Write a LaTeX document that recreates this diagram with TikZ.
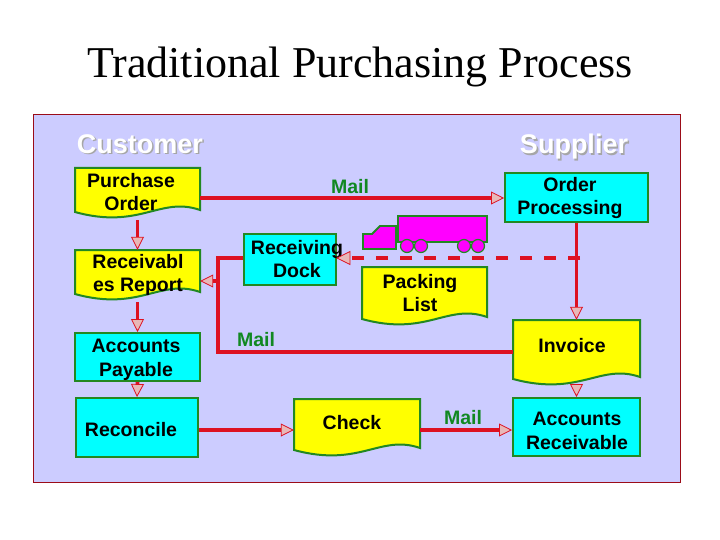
\documentclass[tikz,border=0pt]{standalone}
\usepackage{fontspec}
\setmainfont{Liberation Sans}
\newfontfamily\titlefont{Liberation Serif}
\usetikzlibrary{arrows.meta}
\definecolor{panel}{HTML}{CCCCFF}
\definecolor{lnred}{HTML}{DD1122}
\definecolor{gbord}{HTML}{228822}
\definecolor{docy}{HTML}{FFFF00}
\definecolor{boxc}{HTML}{00FFFF}
\definecolor{mailg}{HTML}{118822}
\definecolor{tipf}{HTML}{E8B8B8}
\definecolor{truckc}{HTML}{FF00FF}
\tikzset{
  tx/.style={font=\fontsize{19.5}{23.5}\selectfont\bfseries, align=center, text=black},
  procbox/.style={draw=gbord, line width=2pt, fill=boxc, inner sep=0pt},
  docshape/.style={inner sep=0pt},
  docline/.style={draw=gbord, line width=2pt, fill=docy},
  conn/.style={draw=lnred, line width=3.6pt, -{Triangle[open,length=13pt,width=13pt,line width=0.8pt,fill=tipf]}},
  plain/.style={draw=lnred, line width=3.6pt},
  mail/.style={text=mailg, font=\fontsize{19.5}{22}\selectfont\bfseries},
  head/.style={text=white, font=\fontsize{27}{29}\selectfont\bfseries},
  shade/.style={text=gray!70, font=\fontsize{27}{29}\selectfont\bfseries}
}
\begin{document}
\begin{tikzpicture}[x=1pt,y=-1pt]
\useasboundingbox (0,0) rectangle (720,540);
\fill[white] (0,0) rectangle (720,540);
\node[font=\titlefont\fontsize{44}{46}\selectfont] (title) at (360,67) {Traditional Purchasing Process};
\path[fill=panel, draw=lnred!70!black, line width=1pt] (33,115) rectangle (680,482);
\node[shade] (cs) at (141.5,145.5) {Customer};
\node[head] (cust) at (140,144) {Customer};
\node[shade] (ss) at (575.5,148.5) {Supplier};
\node[head] (supp) at (574,147) {Supplier};

% documents
\path[docline] (75,168) -- (200,168) -- (200,210) .. controls (160,196) and (140,230) .. (75,212) -- cycle;
\node[docshape, minimum width=125pt, minimum height=52pt] (po) at (137.5,194) {};
\node[tx] (pot) at (131,192) {Purchase\\Order};

\path[docline] (75,250) -- (200,250) -- (200,292) .. controls (160,278) and (140,312) .. (75,294) -- cycle;
\node[docshape, minimum width=125pt, minimum height=52pt] (rr) at (137.5,276) {};
\node[tx] (rrt) at (138,275) {Receivabl\\es Report};

\path[docline] (362,267) -- (487,267) -- (487,317) .. controls (447,303) and (427,337) .. (362,319) -- cycle;
\node[docshape, minimum width=125pt, minimum height=50pt] (pl) at (424.5,292) {};
\node[tx] (plt) at (420,293) {Packing\\List};

\path[docline] (513,320) -- (640,320) -- (640,377) .. controls (600,363) and (580,397) .. (513,379) -- cycle;
\node[docshape, minimum width=127pt, minimum height=70pt] (inv) at (576.5,355) {};
\node[tx] (invt) at (572,346) {Invoice};

\path[docline] (294,399) -- (420,399) -- (420,448) .. controls (380,434) and (360,468) .. (294,450) -- cycle;
\node[docshape, minimum width=126pt, minimum height=58pt] (chk) at (357,428) {};
\node[tx] (chkt) at (352,423) {Check};

% process boxes
\node[procbox, minimum width=92pt, minimum height=51pt] (dock) at (290,259.5) {};
\node[tx] (dockt) at (297,259) {Receiving\\Dock};
\node[procbox, minimum width=143pt, minimum height=49pt] (op) at (576.5,197.5) {};
\node[tx] (opt) at (570,198) {Order\\Processing};
\node[procbox, minimum width=125pt, minimum height=48pt] (ap) at (137.5,357) {};
\node[tx] (apt) at (136,360) {Accounts\\Payable};
\node[procbox, minimum width=122pt, minimum height=59pt] (rec) at (137,427.5) {};
\node[tx] (rect) at (131,430) {Reconcile};
\node[procbox, minimum width=127pt, minimum height=58pt] (ar) at (576.5,427) {};
\node[tx] (art) at (577,431) {Accounts\\Receivable};

% truck
\path[fill=truckc, draw=gbord, line width=1.8pt] (398,216) rectangle (487,242);
\path[fill=truckc, draw=gbord, line width=1.8pt] (363,249) -- (363,234) -- (372,234) -- (380,226) -- (396,226) -- (396,249) -- cycle;
\foreach \wx/\nm in {407/w1,421/w2,464/w3,478/w4}{
  \node[circle, fill=truckc, draw=gbord, line width=1.2pt, minimum size=13pt, inner sep=0pt] (\nm) at (\wx,246) {};
}

% connectors
\draw[conn] (po.east |- 0,198) -- (op.west |- 0,198);
\node[mail] (m1) at (350,187) {Mail};
\draw[conn] (po.south) -- (rr.north);
\draw[conn] (rr.south) -- (ap.north);
\draw[conn] (ap.south) -- (rec.north);
\draw[conn] (rec.east |- 0,430) -- (chk.west |- 0,430);
\draw[conn] (chk.east |- 0,430) -- (ar.west |- 0,430);
\node[mail] (m3) at (463,418) {Mail};
\draw[conn] (op.south) -- (inv.north);
\draw[conn] (inv.south) -- (ar.north);
\coordinate (c1) at (218,352);
\coordinate (c2) at (218,258);
\coordinate (c3) at (218,281);
\draw[plain] (inv.west |- c1) -- (c1) -- (c2) -- (dock.west |- c2);
\draw[conn] (c3) -- (rr.east |- c3);
\node[mail] (m2) at (256,340) {Mail};
\coordinate (dstart) at (580,258);
\draw[draw=lnred, line width=3.6pt, dash pattern=on 12pt off 12pt] (dstart) -- (350,258);
\draw[draw=lnred, line width=0.8pt, fill=tipf] (337,258) -- (350,251.5) -- (350,264.5) -- cycle;
\end{tikzpicture}
\end{document}
